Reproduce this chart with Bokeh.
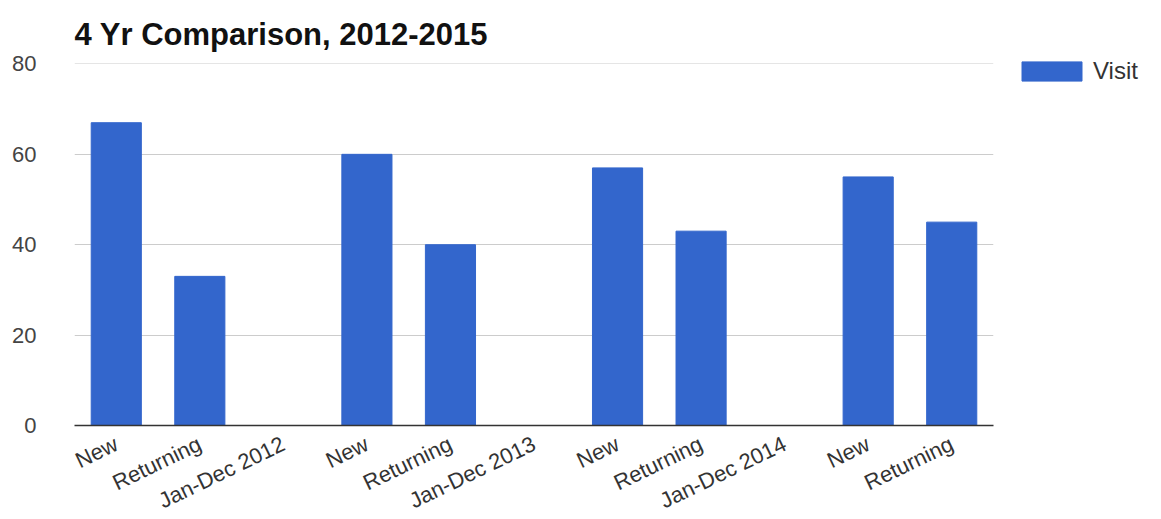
import math
from bokeh.plotting import figure
from bokeh.models import (ColumnDataSource, Range1d, FixedTicker, Legend, LegendItem)
from bokeh.embed import file_html
from bokeh.resources import INLINE

categories = ["New", "Returning", "Jan-Dec 2012",
              "New", "Returning", "Jan-Dec 2013",
              "New", "Returning", "Jan-Dec 2014",
              "New", "Returning"]
visits = [67, 33, 0, 60, 40, 0, 57, 43, 0, 55, 45]
y_ticks = [0, 20, 40, 60, 80]

xs = list(range(len(categories)))
src = ColumnDataSource(dict(x=xs, top=visits, cat=categories))

p = figure(frame_width=919, frame_height=362, output_backend="svg", toolbar_location=None,
           x_range=Range1d(-0.5, len(categories) - 0.5), y_range=Range1d(0, 80.1),
           min_border_left=74, min_border_right=168, min_border_top=63, min_border_bottom=94,
           title="4 Yr Comparison, 2012-2015")
p.outline_line_color = None
p.background_fill_color = "white"
p.border_fill_color = "white"

p.title.text_font = "Liberation Sans"
p.title.text_font_size = "31px"
p.title.text_font_style = "bold"
p.title.text_color = "#111111"
p.title.vertical_align = "top"
p.title.standoff = 20

r = p.vbar(x="x", top="top", width=0.6, source=src, fill_color="#3366cc", line_color="#3366cc")

# Axes
p.xaxis.ticker = FixedTicker(ticks=xs)
p.xaxis.major_label_overrides = {i: c for i, c in zip(xs, categories)}
p.xaxis.major_label_orientation = 0.45
p.xaxis.major_tick_line_color = None
p.xaxis.minor_tick_line_color = None
p.xaxis.axis_line_color = "#333333"
p.xaxis.axis_line_width = 1.5
p.xaxis.major_label_text_font = "Liberation Sans"
p.xaxis.major_label_text_font_size = "22px"
p.xaxis.major_label_text_color = "#333333"
p.xaxis.major_label_standoff = 11

p.yaxis.ticker = FixedTicker(ticks=y_ticks)
p.yaxis.axis_line_color = None
p.yaxis.major_tick_line_color = None
p.yaxis.minor_tick_line_color = None
p.yaxis.major_label_text_font = "Liberation Sans"
p.yaxis.major_label_text_font_size = "22px"
p.yaxis.major_label_text_color = "#444444"
p.yaxis.major_label_standoff = 32

p.xgrid.grid_line_color = None
p.ygrid.grid_line_color = "#cccccc"
p.ygrid.grid_line_width = 1.2

legend = Legend(items=[LegendItem(label="Visit", renderers=[r])],
                location=(21, 340), border_line_color=None, background_fill_alpha=0,
                glyph_width=75, glyph_height=24, label_text_font="Liberation Sans",
                label_text_font_size="24px", label_text_color="#333333",
                margin=0, padding=0, label_standoff=4, spacing=0, label_height=24)
p.add_layout(legend, "right")

open("out.html", "w").write(file_html(p, INLINE))
